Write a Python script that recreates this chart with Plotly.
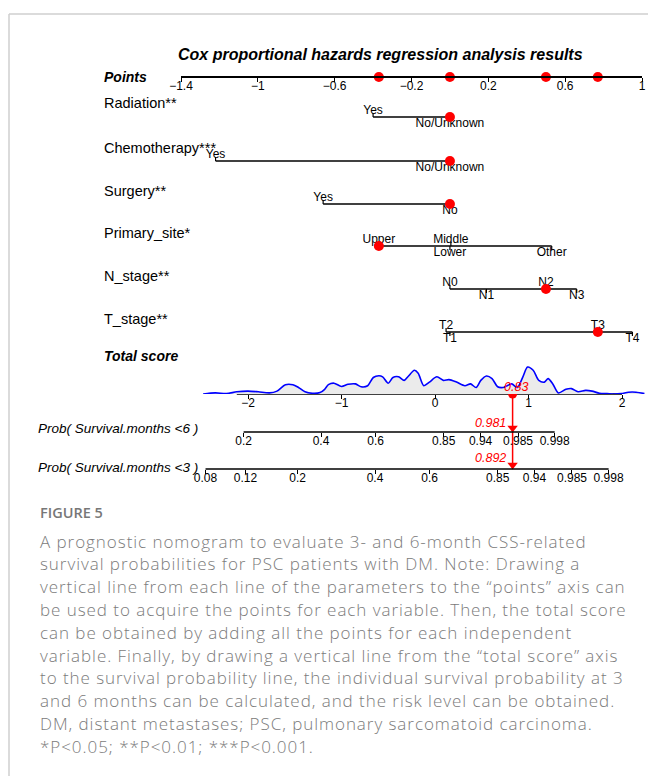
import math
import plotly.graph_objects as go

W, H = 648, 776

# ---------------- data ----------------
title = "Cox proportional hazards regression analysis results"

points_ticks = [-1.4, -1, -0.6, -0.2, 0.2, 0.6, 1]
points_range = [-1.4, 1]

variables = ["Radiation**", "Chemotherapy***", "Surgery**", "Primary_site*", "N_stage**", "T_stage**"]
radiation_levels = ["Yes", "No/Unknown"]
radiation_points = [-0.40, 0.0]
chemo_levels = ["Yes", "No/Unknown"]
chemo_points = [-1.22, 0.0]
surgery_levels = ["Yes", "No"]
surgery_points = [-0.66, 0.0]
site_levels = ["Upper", "Lower", "Middle", "Other"]
site_points = [-0.37, 0.0, 0.005, 0.53]
n_levels = ["N0", "N1", "N2", "N3"]
n_points = [0.0, 0.19, 0.50, 0.66]
t_levels = ["T2", "T1", "T3", "T4"]
t_points = [-0.02, 0.0, 0.77, 0.95]
selected = ["No/Unknown", "No/Unknown", "No", "Upper", "N2", "T3"]

total_ticks = [-2, -1, 0, 1, 2]
total_axis_limits = [-2.12, 2.0]
total_score = 0.83

density_x = [-2.48, -2.35, -2.23, -2.12, -2.00, -1.89, -1.77, -1.69, -1.60, -1.52, -1.46, -1.39,
             -1.31, -1.23, -1.18, -1.14, -1.08, -1.00, -0.93, -0.85, -0.79, -0.72, -0.66, -0.60,
             -0.56, -0.50, -0.45, -0.39, -0.33, -0.29, -0.22, -0.18, -0.12, -0.06, 0.02, 0.09,
             0.15, 0.23, 0.32, 0.38, 0.44, 0.49, 0.55, 0.61, 0.67, 0.73, 0.82, 0.88, 0.94, 0.99,
             1.05, 1.11, 1.17, 1.21, 1.26, 1.32, 1.40, 1.46, 1.53, 1.61, 1.68, 1.76, 1.84, 1.91,
             1.99, 2.07, 2.15, 2.24]
density_h = [0, 1.1, 0.4, 2.2, 2.9, 2.2, 1.1, 2.9, 9.3, 9.3, 6.5, 2.2,
             0.7, 1.4, 4.7, 9.3, 10.8, 7.5, 9.7, 10.1, 7.2, 8.3, 16.5, 18.3,
             17.2, 10.8, 16.5, 17.2, 13.6, 17.2, 23.7, 20.8, 8.3, 11.9, 17.2, 13.6,
             14.4, 11.9, 8.3, 10.1, 6.5, 13.6, 18.0, 15.4, 7.2, 6.5, 10.1, 6.5, 17.2, 26.9,
             23.7, 13.6, 11.9, 15.4, 10.1, 1.1, 4.7, 5.4, 2.2, 3.6, 2.9, 0.7, 0.4, 0,
             0.4, 1.8, 1.8, 0.4]

prob6_label = "Prob( Survival.months <6 )"
prob3_label = "Prob( Survival.months <3 )"
prob6_ticks = [0.2, 0.4, 0.6, 0.85, 0.94, 0.985, 0.998]
prob3_ticks = [0.08, 0.12, 0.2, 0.4, 0.6, 0.85, 0.94, 0.985, 0.998]
prob6_at_score = 0.981
prob3_at_score = 0.892

caption_head = "FIGURE 5"
caption_lines = [
    "A prognostic nomogram to evaluate 3- and 6-month CSS-related",
    "survival probabilities for PSC patients with DM. Note: Drawing a",
    "vertical line from each line of the parameters to the \u201cpoints\u201d axis can",
    "be used to acquire the points for each variable. Then, the total score",
    "can be obtained by adding all the points for each independent",
    "variable. Finally, by drawing a vertical line from the \u201ctotal score\u201d axis",
    "to the survival probability line, the individual survival probability at 3",
    "and 6 months can be calculated, and the risk level can be obtained.",
    "DM, distant metastases; PSC, pulmonary sarcomatoid carcinoma.",
    "*P<0.05; **P<0.01; ***P<0.001.",
]

levels_all = [radiation_levels, chemo_levels, surgery_levels, site_levels, n_levels, t_levels]
points_all = [radiation_points, chemo_points, surgery_points, site_points, n_points, t_points]

# ---------------- layout geometry (pixels) ----------------
FONT = "Liberation Sans"
POINTS_PX = (181, 642)          # pixel span of the points axis
TS_ZERO_PX, TS_PPU = 435, 93.5  # total-score scale
TS_DOMAIN_PX = (203, 645)
POINTS_Y = 77
ROW_Y = [117, 161, 204, 246, 289, 332]
LABEL_Y = [103, 148, 191, 233, 276, 319]
TOTAL_Y = 394
PROB6_Y = 432
PROB3_Y = 469
BLACK = "#000000"
RED = "#ff0000"


def fx(px):
    return px / W


def fy(py):
    return 1 - py / H


ts_range = [(TS_DOMAIN_PX[0] - TS_ZERO_PX) / TS_PPU, (TS_DOMAIN_PX[1] - TS_ZERO_PX) / TS_PPU]
ts_domain = [fx(TS_DOMAIN_PX[0]), fx(TS_DOMAIN_PX[1])]


def cox_lp(p, p_at):
    # linear predictor at which P(event) = p, given P(event)=p_at at total_score
    h0 = -math.log(1 - p_at) / math.exp(total_score)
    return math.log(-math.log(1 - p) / h0)


fig = go.Figure()

# ---- variable rows on the points scale ----
for i, (lv, pts) in enumerate(zip(levels_all, points_all)):
    y0 = ROW_Y[i]
    fig.add_trace(go.Scatter(x=[min(pts), max(pts)], y=[y0, y0], mode="lines",
                             line=dict(color=BLACK, width=1.6), xaxis="x", yaxis="y",
                             hoverinfo="skip", showlegend=False))
    tx, ty, lx, ly = [], [], [], []
    for k, (name, p) in enumerate(zip(lv, pts)):
        up = (k % 2 == 0)
        tx += [p, p, None]
        ty += [y0, y0 - 4 if up else y0 + 4, None]
        lx.append(p)
        ly.append(y0 - 6 if up else y0 + 7)
    fig.add_trace(go.Scatter(x=tx, y=ty, mode="lines", line=dict(color=BLACK, width=1.2),
                             xaxis="x", yaxis="y", hoverinfo="skip", showlegend=False))
    fig.add_trace(go.Scatter(x=lx, y=ly, mode="text", text=lv, textposition="middle center",
                             textfont=dict(family=FONT, size=12, color=BLACK), cliponaxis=False,
                             xaxis="x", yaxis="y", hoverinfo="skip", showlegend=False))
    sel = pts[lv.index(selected[i])]
    fig.add_trace(go.Scatter(x=[sel], y=[y0], mode="markers",
                             marker=dict(color=RED, size=10), cliponaxis=False,
                             xaxis="x", yaxis="y", hoverinfo="skip", showlegend=False))

# red dots on points axis
sel_vals = sorted(set(pts[lv.index(s)] for lv, pts, s in zip(levels_all, points_all, selected)))
fig.add_trace(go.Scatter(x=sel_vals, y=[POINTS_Y] * len(sel_vals), mode="markers",
                         marker=dict(color=RED, size=10), cliponaxis=False,
                         xaxis="x", yaxis="y", hoverinfo="skip", showlegend=False))

# ---- total score density ----
fig.add_trace(go.Scatter(x=density_x, y=density_h, mode="lines", fill="tozeroy",
                         fillcolor="#ebebeb", line=dict(color="#0000ff", width=1.6, shape="spline",
                                                        smoothing=0.8),
                         xaxis="x2", yaxis="y2", hoverinfo="skip", showlegend=False))
fig.add_trace(go.Scatter(x=total_axis_limits, y=[TOTAL_Y, TOTAL_Y], mode="lines",
                         line=dict(color=BLACK, width=1.6), xaxis="x2", yaxis="y",
                         hoverinfo="skip", showlegend=False))

# ---- probability axes lines ----
p6 = [cox_lp(p, prob6_at_score) for p in prob6_ticks]
p3 = [cox_lp(p, prob3_at_score) for p in prob3_ticks]
fig.add_trace(go.Scatter(x=[p6[0], p6[-1]], y=[PROB6_Y, PROB6_Y], mode="lines",
                         line=dict(color=BLACK, width=1.6), xaxis="x3", yaxis="y",
                         hoverinfo="skip", showlegend=False))
fig.add_trace(go.Scatter(x=[p3[0], p3[-1]], y=[PROB3_Y, PROB3_Y], mode="lines",
                         line=dict(color=BLACK, width=1.6), xaxis="x4", yaxis="y",
                         hoverinfo="skip", showlegend=False))

# ---- red read-off line ----
fig.add_trace(go.Scatter(x=[total_score, total_score], y=[TOTAL_Y, PROB3_Y - 2], mode="lines",
                         line=dict(color=RED, width=1.5), xaxis="x2", yaxis="y",
                         hoverinfo="skip", showlegend=False))
fig.add_trace(go.Scatter(x=[total_score, total_score], y=[PROB6_Y - 4, PROB3_Y - 4], mode="markers",
                         marker=dict(color=RED, size=9, symbol="triangle-down"), cliponaxis=False,
                         xaxis="x2", yaxis="y", hoverinfo="skip", showlegend=False))
fig.add_trace(go.Scatter(x=[total_score], y=[TOTAL_Y], mode="markers",
                         marker=dict(color=RED, size=9), cliponaxis=False,
                         xaxis="x2", yaxis="y", hoverinfo="skip", showlegend=False))

ann = []
red_font = dict(family=FONT, size=12.5, color=RED)
ann.append(dict(x=total_score, y=TOTAL_Y - 7, xref="x2", yref="y", xanchor="center", yanchor="middle",
                text="<i>%g</i>" % total_score, showarrow=False, font=red_font, xshift=3))
ann.append(dict(x=total_score, y=PROB6_Y - 9, xref="x2", yref="y", xanchor="right", yanchor="middle",
                text="<i>%g</i>" % prob6_at_score, showarrow=False, font=red_font, xshift=-5))
ann.append(dict(x=total_score, y=PROB3_Y - 11, xref="x2", yref="y", xanchor="right", yanchor="middle",
                text="<i>%g</i>" % prob3_at_score, showarrow=False, font=red_font, xshift=-5))

# ---- text labels ----
ann.append(dict(x=fx(381), y=fy(55), xref="paper", yref="paper", xanchor="center", yanchor="middle",
                text="<b><i>%s</i></b>" % title, showarrow=False,
                font=dict(family=FONT, size=16, color=BLACK)))
ann.append(dict(x=fx(102), y=fy(77), xref="paper", yref="paper", xanchor="left", yanchor="middle",
                text="<b><i>Points</i></b>", showarrow=False, font=dict(family=FONT, size=14, color=BLACK)))
ann.append(dict(x=fx(102), y=fy(356), xref="paper", yref="paper", xanchor="left", yanchor="middle",
                text="<b><i>Total score</i></b>", showarrow=False, font=dict(family=FONT, size=14, color=BLACK)))
for name, ly in zip(variables, LABEL_Y):
    ann.append(dict(x=fx(102), y=fy(ly), xref="paper", yref="paper", xanchor="left", yanchor="middle",
                    text=name, showarrow=False, font=dict(family=FONT, size=14.5, color=BLACK)))
for lab, ly in [(prob6_label, 428), (prob3_label, 467)]:
    ann.append(dict(x=fx(36), y=fy(ly), xref="paper", yref="paper", xanchor="left", yanchor="middle",
                    text="<i>%s</i>" % lab.replace("<", "&lt;"), showarrow=False,
                    font=dict(family=FONT, size=13.5, color=BLACK)))

# ---- caption ----
ann.append(dict(x=fx(38), y=fy(512), xref="paper", yref="paper", xanchor="left", yanchor="middle",
                text=caption_head, showarrow=False,
                font=dict(family="Open Sans", size=14.5, color="#777777", weight=600)))
for k, line in enumerate(caption_lines):
    ann.append(dict(x=fx(38), y=fy(541 + 22.8 * k), xref="paper", yref="paper", xanchor="left",
                    yanchor="middle",
                    text='<span style="letter-spacing:0.95px">%s</span>' % line.replace("<", "&lt;"),
                    showarrow=False,
                    font=dict(family="Open Sans", size=17, color="#7b7b7b", weight=300)))

axis_common = dict(showgrid=False, zeroline=False, automargin=False, fixedrange=True,
                   side="bottom", ticks="outside", ticklen=4, tickwidth=1.2, tickcolor=BLACK,
                   ticklabelstandoff=-6,
                   tickfont=dict(family=FONT, size=12, color=BLACK))

fig.update_layout(
    width=W, height=H, margin=dict(l=0, r=0, t=0, b=0),
    paper_bgcolor="white", plot_bgcolor="rgba(0,0,0,0)", template="none",
    showlegend=False,
    xaxis=dict(domain=[fx(POINTS_PX[0]), fx(POINTS_PX[1])], range=points_range, anchor="free",
               position=fy(POINTS_Y), showline=True, linecolor=BLACK, linewidth=1.6,
               tickvals=points_ticks, **axis_common),
    xaxis2=dict(domain=ts_domain, range=ts_range, anchor="free", position=fy(TOTAL_Y),
                showline=False, tickvals=total_ticks, **axis_common),
    xaxis3=dict(domain=ts_domain, range=ts_range, anchor="free", position=fy(PROB6_Y),
                showline=False, tickvals=p6, ticktext=[str(v) for v in prob6_ticks], **axis_common),
    xaxis4=dict(domain=ts_domain, range=ts_range, anchor="free", position=fy(PROB3_Y),
                showline=False, tickvals=p3, ticktext=[str(v) for v in prob3_ticks], **axis_common),
    yaxis=dict(domain=[0, 1], range=[H, 0], visible=False, fixedrange=True, anchor="free", position=0),
    yaxis2=dict(domain=[fy(TOTAL_Y), fy(TOTAL_Y - 40)], range=[0, 40], visible=False,
                anchor="free", position=0, fixedrange=True),
    annotations=ann,
    shapes=[
        dict(type="line", xref="paper", yref="paper", x0=fx(9), x1=1, y0=fy(14), y1=fy(14),
             line=dict(color="#cfcfcf", width=1.5)),
        dict(type="line", xref="paper", yref="paper", x0=fx(9), x1=fx(9), y0=fy(14), y1=0,
             line=dict(color="#cfcfcf", width=1.5)),
    ],
)

fig.write_html("out.html")
